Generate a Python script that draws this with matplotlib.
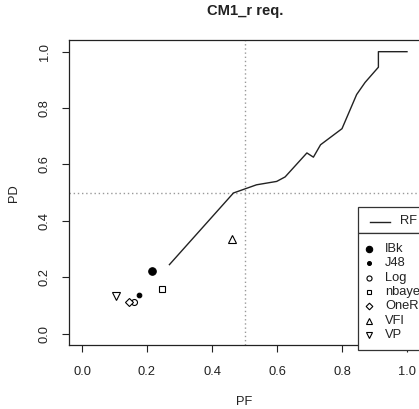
import matplotlib
matplotlib.use("Agg")
import matplotlib.pyplot as plt
from matplotlib.patches import Rectangle
from matplotlib.lines import Line2D

plt.rcParams['font.family'] = ['Liberation Sans', 'DejaVu Sans']

# ---- data ----
rf_pf = [0.269, 0.466, 0.537, 0.599, 0.625, 0.692, 0.712, 0.734, 0.800, 0.845, 0.871, 0.912, 0.912, 1.0]
rf_pd = [0.245, 0.499, 0.528, 0.540, 0.556, 0.641, 0.626, 0.670, 0.727, 0.848, 0.891, 0.945, 1.0, 1.0]

learners = ['IBk', 'J48', 'Log', 'nbayes', 'OneR', 'VFI', 'VP']
learner_pf = [0.216, 0.175, 0.161, 0.246, 0.145, 0.463, 0.104]
learner_pd = [0.223, 0.136, 0.112, 0.157, 0.112, 0.337, 0.135]
markers = ['o', 'o', 'o', 's', 'D', '^', 'v']
filled = [True, True, False, False, False, False, False]
msizes = [5.4, 3.3, 4.3, 4.2, 4.0, 5.4, 5.4]

xticks = [0.0, 0.2, 0.4, 0.6, 0.8, 1.0]
yticks = [0.0, 0.2, 0.4, 0.6, 0.8, 1.0]

W, H = 419, 409
fig = plt.figure(figsize=(W / 100, H / 100), dpi=100)

def fx(x):
    return x / W

def fy(y):
    return 1 - y / H

ax = fig.add_axes([fx(69), fy(345), fx(420) - fx(69), fy(40.4) - fy(345)])
ax.set_xlim(-0.04, 1.04)
ax.set_ylim(-0.04, 1.04)

ax.axvline(0.5, color='#999999', linestyle=(0, (1, 2)), lw=1)
ax.axhline(0.5, color='#999999', linestyle=(0, (1, 2)), lw=1)

ax.plot(rf_pf, rf_pd, color='#222222', lw=1)

for x, y, m, f, s in zip(learner_pf, learner_pd, markers, filled, msizes):
    ax.plot([x], [y], marker=m, markersize=s, linestyle='none',
            markerfacecolor='black' if f else 'white',
            markeredgecolor='black', markeredgewidth=0.8)

ax.set_xticks(xticks)
ax.set_yticks(yticks)
ax.set_xticklabels([f"{v:.1f}" for v in xticks], fontsize=9.3, color='#222222')
ax.set_yticklabels([f"{v:.1f}" for v in yticks], fontsize=9.3, rotation=90, va='center',
                   color='#222222')
ax.tick_params(direction='out', length=5, width=0.8, pad=8, color='#222222')
ax.tick_params(axis='x', pad=10)
for sp in ax.spines.values():
    sp.set_linewidth(0.9)
    sp.set_color('#222222')

ax.set_xlabel('PF', fontsize=9.3, labelpad=13, color='#222222')
ax.set_ylabel('PD', fontsize=9.3, labelpad=14, color='#222222')
fig.text(fx(245), fy(10.5), 'CM1_r req.', fontsize=10.6, fontweight='bold',
         ha='center', va='center', color='#222222')

# ---- legends (drawn in figure pixel space) ----
def rect(x0, y0, x1, y1):
    r = Rectangle((fx(x0), fy(y1)), fx(x1) - fx(x0), fy(y0) - fy(y1),
                  transform=fig.transFigure, facecolor='white',
                  edgecolor='#333333', lw=0.9, clip_on=False, zorder=5)
    fig.add_artist(r)

rect(358, 207, 440, 233)
rect(358, 233, 440, 350)

fig.add_artist(Line2D([fx(370), fx(390)], [fy(221.5), fy(221.5)],
                      transform=fig.transFigure, color='#222222', lw=1, zorder=6))
fig.text(fx(400), fy(221.5), 'RF', fontsize=9.3, va='center', ha='left', zorder=6,
         color='#222222')

row0 = 249
step = 14.3
for i, (name, m, f, s) in enumerate(zip(learners, markers, filled, msizes)):
    yy = row0 + i * step
    fig.add_artist(Line2D([fx(369)], [fy(yy)], transform=fig.transFigure,
                          marker=m, markersize=s * 0.85, linestyle='none',
                          markerfacecolor='black' if f else 'white',
                          markeredgecolor='black', markeredgewidth=0.8, zorder=6))
    fig.text(fx(385), fy(yy), name, fontsize=9.3, va='center', ha='left', zorder=6,
             color='#222222')

fig.savefig('out.png', dpi=100)
